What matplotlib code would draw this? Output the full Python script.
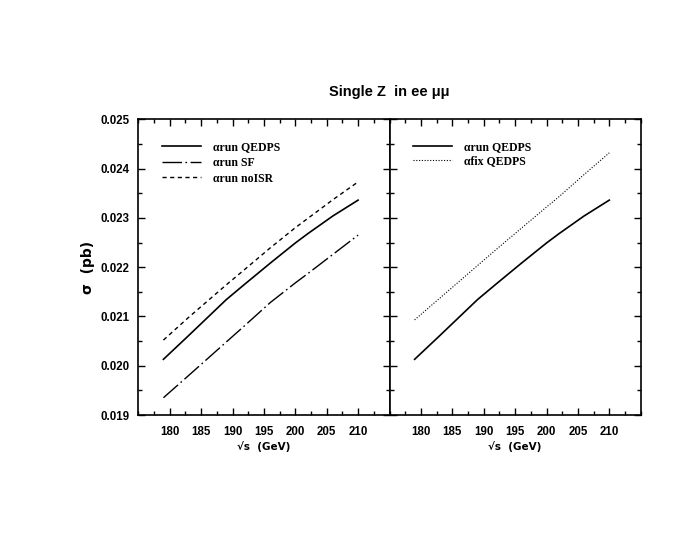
import matplotlib
matplotlib.use("Agg")
import matplotlib.pyplot as plt
from matplotlib.ticker import MultipleLocator, FormatStrFormatter
from matplotlib.font_manager import FontProperties

# ---- data ----
energies = [179, 183, 189, 192, 196, 200, 202, 206, 210]
run_qedps = [0.02013, 0.02061, 0.02134, 0.02166, 0.02208, 0.02249, 0.02268, 0.02304, 0.02336]
run_sf = [0.01935, 0.01980, 0.02048, 0.02082, 0.02128, 0.02168, 0.02187, 0.02226, 0.02265]
run_noisr = [0.02052, 0.02098, 0.02164, 0.02196, 0.02239, 0.02280, 0.02299, 0.02337, 0.02373]
fix_qedps = [0.02093, 0.02137, 0.02203, 0.02236, 0.02279, 0.02322, 0.02343, 0.02388, 0.02432]

left_labels = ["\u03b1run QEDPS", "\u03b1run SF", "\u03b1run noISR"]
right_labels = ["\u03b1run QEDPS", "\u03b1fix QEDPS"]
title = "Single Z  in ee \u03bc\u03bc"
x_ticks = [180, 185, 190, 195, 200, 205, 210]
y_ticks = [0.019, 0.020, 0.021, 0.022, 0.023, 0.024, 0.025]

W, H = 680, 534
fig = plt.figure(figsize=(W / 100, H / 100), dpi=100)

x0, xm, x1 = 138.3, 389.5, 640.7
ytop, ybot = 119.3, 415.0
axL = fig.add_axes([x0 / W, 1 - ybot / H, (xm - x0) / W, (ybot - ytop) / H])
axR = fig.add_axes([xm / W, 1 - ybot / H, (x1 - xm) / W, (ybot - ytop) / H])

tickfont = dict(family="Liberation Sans", weight="bold", size=8.3)

for ax in (axL, axR):
    ax.set_xlim(175, 215)
    ax.set_ylim(0.019, 0.025)
    ax.set_xticks(x_ticks)
    ax.xaxis.set_minor_locator(MultipleLocator(2.5))
    ax.set_yticks(y_ticks)
    ax.yaxis.set_minor_locator(MultipleLocator(0.0005))
    ax.yaxis.set_major_formatter(FormatStrFormatter("%.3f"))
    ax.tick_params(which="both", direction="in", top=True, right=True, width=1.0)
    ax.tick_params(axis="x", which="both", pad=8)
    ax.tick_params(axis="y", which="both", pad=6)
    ax.tick_params(which="major", length=5)
    ax.tick_params(which="minor", length=3)
    for sp in ax.spines.values():
        sp.set_linewidth(1.2)
    for lab in ax.get_xticklabels():
        lab.set_fontproperties(FontProperties(**tickfont))
    ax.set_xlabel("\u221as  (GeV)", family="DejaVu Sans", weight="bold", size=7.5, labelpad=2)

for lab in axL.get_yticklabels():
    lab.set_fontproperties(FontProperties(**tickfont))
axR.set_yticklabels([])
axL.set_ylabel("\u03c3  (pb)", family="DejaVu Sans", weight="bold", size=10, labelpad=4)

# left panel
axL.plot(energies, run_qedps, color="black", lw=1.2, label=left_labels[0])
axL.plot(energies, run_sf, color="black", lw=1.0, linestyle=(0, (14, 2.5, 1.2, 2.5)), label=left_labels[1])
axL.plot(energies, run_noisr, color="black", lw=1.0, linestyle=(0, (3, 2.5)), label=left_labels[2])

# right panel
axR.plot(energies, run_qedps, color="black", lw=1.2, label=right_labels[0])
axR.plot(energies, fix_qedps, color="black", lw=0.8, linestyle=(0, (1, 1.5)), label=right_labels[1])

legfont = dict(family="Liberation Serif", weight="bold", size=8.5)
for ax, sp in ((axL, 0.3), (axR, 0.12)):
    ax.legend(loc="upper left", bbox_to_anchor=(0.095, 0.925), frameon=False,
              prop=FontProperties(**legfont),
              handlelength=3.3, handletextpad=1.0, labelspacing=sp,
              borderaxespad=0.0, borderpad=0.0)

fig.text((x0 + x1) / 2 / W, 1 - 92 / H, title, ha="center", va="center",
         family="Liberation Sans", weight="bold", size=10.5)

fig.savefig("out.png", dpi=100)
